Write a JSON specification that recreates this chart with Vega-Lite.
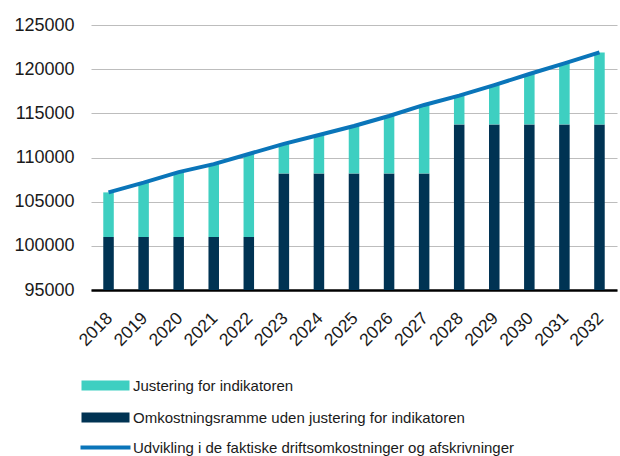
{
  "$schema": "https://vega.github.io/schema/vega-lite/v6.json",
  "width": 526,
  "height": 265,
  "autosize": {"type": "none"},
  "padding": {"left": 91, "top": 25, "right": 3, "bottom": 166},
  "background": "white",
  "config": {
    "font": "Liberation Sans",
    "view": {"stroke": null}
  },
  "datasets": {
    "bars": [
      {"year": "2018", "series": "Omkostningsramme uden justering for indikatoren", "value": 101000},
      {"year": "2018", "series": "Justering for indikatoren", "value": 5050},
      {"year": "2019", "series": "Omkostningsramme uden justering for indikatoren", "value": 101000},
      {"year": "2019", "series": "Justering for indikatoren", "value": 6150},
      {"year": "2020", "series": "Omkostningsramme uden justering for indikatoren", "value": 101000},
      {"year": "2020", "series": "Justering for indikatoren", "value": 7350},
      {"year": "2021", "series": "Omkostningsramme uden justering for indikatoren", "value": 101000},
      {"year": "2021", "series": "Justering for indikatoren", "value": 8250},
      {"year": "2022", "series": "Omkostningsramme uden justering for indikatoren", "value": 101000},
      {"year": "2022", "series": "Justering for indikatoren", "value": 9400},
      {"year": "2023", "series": "Omkostningsramme uden justering for indikatoren", "value": 108200},
      {"year": "2023", "series": "Justering for indikatoren", "value": 3350},
      {"year": "2024", "series": "Omkostningsramme uden justering for indikatoren", "value": 108200},
      {"year": "2024", "series": "Justering for indikatoren", "value": 4350},
      {"year": "2025", "series": "Omkostningsramme uden justering for indikatoren", "value": 108200},
      {"year": "2025", "series": "Justering for indikatoren", "value": 5370},
      {"year": "2026", "series": "Omkostningsramme uden justering for indikatoren", "value": 108200},
      {"year": "2026", "series": "Justering for indikatoren", "value": 6500},
      {"year": "2027", "series": "Omkostningsramme uden justering for indikatoren", "value": 108200},
      {"year": "2027", "series": "Justering for indikatoren", "value": 7750},
      {"year": "2028", "series": "Omkostningsramme uden justering for indikatoren", "value": 113750},
      {"year": "2028", "series": "Justering for indikatoren", "value": 3250},
      {"year": "2029", "series": "Omkostningsramme uden justering for indikatoren", "value": 113750},
      {"year": "2029", "series": "Justering for indikatoren", "value": 4450},
      {"year": "2030", "series": "Omkostningsramme uden justering for indikatoren", "value": 113750},
      {"year": "2030", "series": "Justering for indikatoren", "value": 5700},
      {"year": "2031", "series": "Omkostningsramme uden justering for indikatoren", "value": 113750},
      {"year": "2031", "series": "Justering for indikatoren", "value": 6900},
      {"year": "2032", "series": "Omkostningsramme uden justering for indikatoren", "value": 113750},
      {"year": "2032", "series": "Justering for indikatoren", "value": 8150}
    ],
    "line": [
      {"year": "2018", "value": 106050},
      {"year": "2019", "value": 107150},
      {"year": "2020", "value": 108350},
      {"year": "2021", "value": 109250},
      {"year": "2022", "value": 110400},
      {"year": "2023", "value": 111550},
      {"year": "2024", "value": 112550},
      {"year": "2025", "value": 113570},
      {"year": "2026", "value": 114700},
      {"year": "2027", "value": 115950},
      {"year": "2028", "value": 117000},
      {"year": "2029", "value": 118200},
      {"year": "2030", "value": 119450},
      {"year": "2031", "value": 120650},
      {"year": "2032", "value": 121900}
    ]
  },
  "encoding": {
    "x": {
      "field": "year",
      "type": "ordinal",
      "scale": {"paddingInner": 0.7, "paddingOuter": 0.35},
      "axis": {
        "title": null,
        "labelAngle": -45,
        "labelAlign": "right",
        "labelBaseline": "top",
        "labelFontSize": 17.5,
        "labelColor": "#1a1a1a",
        "labelPadding": 19,
        "labelOffset": -5,
        "ticks": false,
        "domainColor": "#000000",
        "domainWidth": 2.5,
        "grid": false
      }
    }
  },
  "layer": [
    {
      "data": {"name": "bars"},
      "mark": {"type": "bar", "clip": true},
      "encoding": {
        "y": {
          "field": "value",
          "type": "quantitative",
          "stack": "zero",
          "scale": {"domain": [95000, 125000], "zero": false, "nice": false},
          "axis": {
            "title": null,
            "values": [95000, 100000, 105000, 110000, 115000, 120000, 125000],
            "format": "d",
            "labelFontSize": 18,
            "labelColor": "#1a1a1a",
            "labelPadding": 17,
            "ticks": false,
            "domain": false,
            "grid": true,
            "gridColor": "#bdbdbd",
            "gridWidth": 1
          }
        },
        "fill": {
          "field": "series",
          "type": "nominal",
          "scale": {
            "domain": ["Justering for indikatoren", "Omkostningsramme uden justering for indikatoren"],
            "range": ["#3ecfc1", "#003353"]
          },
          "legend": {
            "title": null,
            "orient": "none",
            "direction": "vertical",
            "legendX": 7,
            "legendY": 353,
            "padding": 0,
            "symbolType": "M-4.8,-1H4.8V1H-4.8Z",
            "symbolSize": 100,
            "symbolStrokeWidth": 0,
            "labelOffset": 20,
            "labelFontSize": 15,
            "labelLimit": 0,
            "labelColor": "#1a1a1a",
            "rowPadding": 16
          }
        },
        "order": {"field": "series", "sort": "descending"}
      }
    },
    {
      "data": {"name": "line"},
      "mark": {"type": "line", "strokeWidth": 4, "strokeCap": "butt"},
      "encoding": {
        "y": {"field": "value", "type": "quantitative"},
        "stroke": {
          "datum": "Udvikling i de faktiske driftsomkostninger og afskrivninger",
          "type": "nominal",
          "scale": {"range": ["#0a75b9"]},
          "legend": {
            "title": null,
            "orient": "none",
            "legendX": 7,
            "legendY": 415,
            "padding": 0,
            "symbolType": "M-5,0H5",
            "symbolSize": 100,
            "symbolStrokeWidth": 4,
            "symbolFillColor": "transparent",
            "labelOffset": 20,
            "labelFontSize": 15,
            "labelLimit": 0,
            "labelColor": "#1a1a1a"
          }
        }
      }
    }
  ]
}
